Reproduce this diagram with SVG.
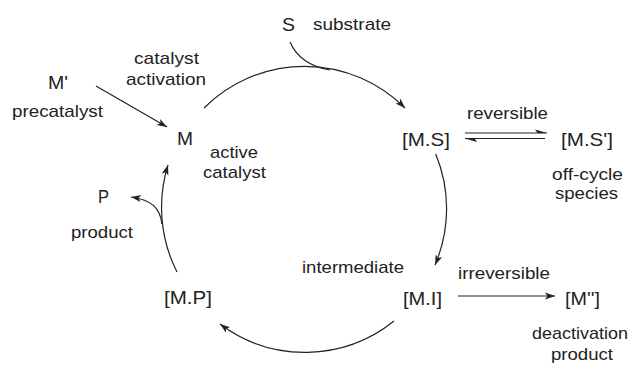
<svg xmlns="http://www.w3.org/2000/svg" width="633" height="365" viewBox="0 0 633 365">
<style>
text{font-family:"Liberation Sans",Arial,sans-serif;fill:#222}
.sp{font-size:19px}
.lb{font-size:17px}
.ln{fill:none;stroke:#222;stroke-width:1.2}
.ar{marker-end:url(#ah)}
</style>
<defs>
<marker id="ah" viewBox="-11 -5 12 10" refX="0" refY="0" markerWidth="12" markerHeight="10" orient="auto" markerUnits="userSpaceOnUse">
<path d="M0,0 L-10,-3.5 L-7.5,0 L-10,3.5 Z" fill="#222"/>
</marker>
</defs>
<rect width="633" height="365" fill="#fff"/>
<g id="connectors">
<path class="ln ar" d="M204,108 A142,142 0 0 1 405,108"/>
<path class="ln ar" d="M435.7,154 A142.5,142.5 0 0 1 435,265"/>
<path class="ln ar" d="M394,321 A142,142 0 0 1 220,324"/>
<path class="ln ar" d="M177,272 A142.5,142.5 0 0 1 168,165"/>
<path class="ln" d="M290,42 C297,58 312,67 330,70"/>
<path class="ln ar" d="M162,224 C160,208 152,200 131,197"/>
<path class="ln ar" d="M96,86 L167,127"/>
<path class="ln ar" d="M458,296 L555,296"/>
<path class="ln" d="M465,133 L547,133"/>
<path d="M547,133 L535,129.5 L537.5,133 Z" fill="#222"/>
<path class="ln" d="M545,138.5 L465,138.5"/>
<path d="M465,138.5 L477,142 L474.5,138.5 Z" fill="#222"/>
</g>
<g id="node-S"><text class="sp" x="282" y="31" textLength="13" lengthAdjust="spacingAndGlyphs">S</text><text class="lb" x="313" y="30" textLength="78" lengthAdjust="spacingAndGlyphs">substrate</text></g>
<g id="label-activation"><text class="lb" x="134" y="64" textLength="65" lengthAdjust="spacingAndGlyphs">catalyst</text><text class="lb" x="126" y="85" textLength="80" lengthAdjust="spacingAndGlyphs">activation</text></g>
<g id="node-Mprime"><text class="sp" x="48" y="89" textLength="20" lengthAdjust="spacingAndGlyphs">M'</text><text class="lb" x="12" y="117" textLength="91" lengthAdjust="spacingAndGlyphs">precatalyst</text></g>
<g id="node-M"><text class="sp" x="177" y="145" textLength="16" lengthAdjust="spacingAndGlyphs">M</text><text class="lb" x="210" y="158" textLength="48" lengthAdjust="spacingAndGlyphs">active</text><text class="lb" x="203" y="178" textLength="63" lengthAdjust="spacingAndGlyphs">catalyst</text></g>
<g id="node-MS"><text class="sp" x="402" y="146" textLength="48" lengthAdjust="spacingAndGlyphs">[M.S]</text></g>
<g id="label-reversible"><text class="lb" x="467" y="119" textLength="81" lengthAdjust="spacingAndGlyphs">reversible</text></g>
<g id="node-MSprime"><text class="sp" x="561" y="146" textLength="52" lengthAdjust="spacingAndGlyphs">[M.S']</text><text class="lb" x="552" y="180" textLength="71" lengthAdjust="spacingAndGlyphs">off-cycle</text><text class="lb" x="555" y="199" textLength="63" lengthAdjust="spacingAndGlyphs">species</text></g>
<g id="node-MI"><text class="lb" x="302" y="273" textLength="102" lengthAdjust="spacingAndGlyphs">intermediate</text><text class="sp" x="403" y="305" textLength="39" lengthAdjust="spacingAndGlyphs">[M.I]</text></g>
<g id="label-irreversible"><text class="lb" x="458" y="279" textLength="92" lengthAdjust="spacingAndGlyphs">irreversible</text></g>
<g id="node-Mdouble"><text class="sp" x="565" y="305" textLength="35" lengthAdjust="spacingAndGlyphs">[M'']</text><text class="lb" x="532" y="339" textLength="96" lengthAdjust="spacingAndGlyphs">deactivation</text><text class="lb" x="551" y="360" textLength="62" lengthAdjust="spacingAndGlyphs">product</text></g>
<g id="node-P"><text class="sp" x="98" y="203" textLength="11" lengthAdjust="spacingAndGlyphs">P</text><text class="lb" x="71" y="238" textLength="62" lengthAdjust="spacingAndGlyphs">product</text></g>
<g id="node-MP"><text class="sp" x="164" y="304" textLength="48" lengthAdjust="spacingAndGlyphs">[M.P]</text></g>
</svg>
